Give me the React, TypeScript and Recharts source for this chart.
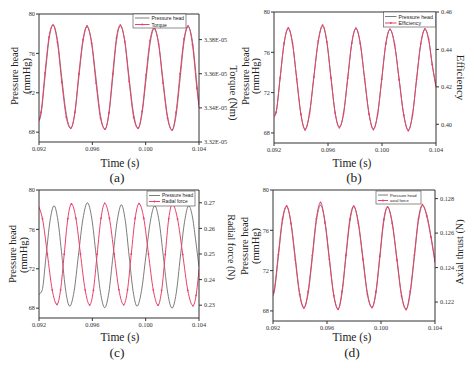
import React from 'react';
import { LineChart, Line, XAxis, YAxis, ReferenceLine } from 'recharts';

const SERIF = '"Liberation Serif", "Times New Roman", serif';
const SANS = '"Liberation Sans", Arial, sans-serif';
const GRAY = '#5b5b5b';
const RED = '#e8416a';
const AXIS = '#333333';

// shared tick values
const timeTicks = [0.092, 0.096, 0.1, 0.104];
const headTicks = [68, 72, 76, 80];

// ---------- panel (a): pressure head vs torque ----------
const timeA = [0.092, 0.09215, 0.09245, 0.09275, 0.09305, 0.09338, 0.09371, 0.09405, 0.09438, 0.09469, 0.09499, 0.0953, 0.0956, 0.09594, 0.09628, 0.09661, 0.09695, 0.09724, 0.09753, 0.09781, 0.0981, 0.09843, 0.09876, 0.0991, 0.09943, 0.09973, 0.10003, 0.10033, 0.10063, 0.10097, 0.1013, 0.10164, 0.10198, 0.10228, 0.10258, 0.10288, 0.10318, 0.10351, 0.10384, 0.104];
const headA = [69.1, 69.8, 73.6, 77.4, 78.9, 77.4, 73.5, 69.8, 68.4, 69.9, 73.6, 77.2, 78.7, 77.2, 73.4, 69.7, 68.3, 69.8, 73.5, 77.3, 78.8, 77.3, 73.5, 69.8, 68.4, 69.9, 73.4, 77.0, 78.5, 77.0, 73.3, 69.6, 68.2, 69.7, 73.4, 77.2, 78.7, 77.2, 72.9, 70.8];
const torqueA = [3.3325e-5, 3.3375e-5, 3.3605e-5, 3.3815e-5, 3.3885e-5, 3.3785e-5, 3.355e-5, 3.3345e-5, 3.328e-5, 3.3375e-5, 3.36e-5, 3.38e-5, 3.388e-5, 3.378e-5, 3.3545e-5, 3.334e-5, 3.3275e-5, 3.337e-5, 3.36e-5, 3.381e-5, 3.3885e-5, 3.379e-5, 3.3555e-5, 3.3345e-5, 3.328e-5, 3.338e-5, 3.3595e-5, 3.3795e-5, 3.387e-5, 3.3775e-5, 3.3545e-5, 3.334e-5, 3.327e-5, 3.3375e-5, 3.36e-5, 3.3805e-5, 3.388e-5, 3.377e-5, 3.3515e-5, 3.3405e-5];
const torqueTicks = [3.32e-5, 3.34e-5, 3.36e-5, 3.38e-5];

// ---------- panel (b): pressure head vs efficiency ----------
const timeB = [0.092, 0.09215, 0.09245, 0.09275, 0.09306, 0.09337, 0.09368, 0.09399, 0.0943, 0.09463, 0.09495, 0.09528, 0.0956, 0.09591, 0.09622, 0.09653, 0.09684, 0.09715, 0.09746, 0.09776, 0.09807, 0.09839, 0.09871, 0.09904, 0.09936, 0.09967, 0.09998, 0.10028, 0.10059, 0.10093, 0.10127, 0.10161, 0.10195, 0.10226, 0.10256, 0.10287, 0.10318, 0.10345, 0.10372, 0.104];
const headB = [69.6, 70.0, 73.4, 76.9, 78.35, 76.9, 73.4, 69.9, 68.4, 69.9, 73.5, 77.1, 78.6, 77.1, 73.5, 70.0, 68.6, 69.9, 73.4, 76.9, 78.35, 76.9, 73.4, 69.9, 68.4, 69.8, 73.3, 76.8, 78.25, 76.8, 73.3, 69.8, 68.3, 69.8, 73.3, 76.8, 78.25, 77.3, 74.8, 72.6];
const efficiencyB = [0.4042, 0.4063, 0.4247, 0.4435, 0.4515, 0.4433, 0.4243, 0.4055, 0.397, 0.4058, 0.4252, 0.4446, 0.453, 0.4442, 0.4248, 0.406, 0.3982, 0.4057, 0.4246, 0.4433, 0.4514, 0.4431, 0.4244, 0.4054, 0.3972, 0.4052, 0.4241, 0.4429, 0.4508, 0.4427, 0.4238, 0.405, 0.3966, 0.4051, 0.424, 0.443, 0.451, 0.4456, 0.4318, 0.42];
const efficiencyTicks = [0.4, 0.42, 0.44, 0.46];

// ---------- panel (c): pressure head vs radial force ----------
const timeC = [0.092, 0.09223, 0.09253, 0.09283, 0.09313, 0.09342, 0.09372, 0.09401, 0.0943, 0.09463, 0.09496, 0.0953, 0.09563, 0.09596, 0.09628, 0.09661, 0.09693, 0.09724, 0.09755, 0.09787, 0.09818, 0.09847, 0.09876, 0.09906, 0.09935, 0.09968, 0.10001, 0.10035, 0.10068, 0.10101, 0.10133, 0.10166, 0.10198, 0.10229, 0.1026, 0.10292, 0.10323, 0.10349, 0.10374, 0.104];
const headC = [69.4, 69.8, 73.3, 76.9, 78.4, 76.9, 73.3, 69.7, 68.2, 69.7, 73.4, 77.1, 78.7, 77.1, 73.4, 69.6, 68.05, 69.6, 73.3, 76.9, 78.5, 76.9, 73.3, 69.7, 68.2, 69.7, 73.2, 76.8, 78.4, 76.8, 73.2, 69.5, 68.0, 69.5, 73.2, 76.8, 78.4, 77.4, 75.0, 72.2];
const timeRadialC = [0.092, 0.09226, 0.09263, 0.09299, 0.09335, 0.09362, 0.09389, 0.09416, 0.09443, 0.09477, 0.09511, 0.09546, 0.0958, 0.09608, 0.09636, 0.09665, 0.09693, 0.09728, 0.09764, 0.09799, 0.09835, 0.09864, 0.09892, 0.09921, 0.0995, 0.09986, 0.10021, 0.10057, 0.10093, 0.1012, 0.10147, 0.10173, 0.102, 0.10239, 0.10278, 0.10316, 0.10355, 0.10378, 0.104];
const radialC = [0.2683, 0.2638, 0.2499, 0.236, 0.2303, 0.236, 0.2499, 0.2638, 0.2696, 0.2639, 0.25, 0.236, 0.2301, 0.2358, 0.2499, 0.264, 0.2698, 0.264, 0.25, 0.2361, 0.2302, 0.236, 0.25, 0.2639, 0.2697, 0.2639, 0.25, 0.236, 0.23, 0.2358, 0.2498, 0.2638, 0.2695, 0.2637, 0.2498, 0.2358, 0.2298, 0.2338, 0.244];
const radialTicks = [0.23, 0.24, 0.25, 0.26, 0.27];

// ---------- panel (d): pressure head vs axial thrust ----------
const timeD = [0.092, 0.09208, 0.09239, 0.0927, 0.09301, 0.09333, 0.09365, 0.09397, 0.09429, 0.0946, 0.09491, 0.09521, 0.09552, 0.09585, 0.09617, 0.0965, 0.09682, 0.09711, 0.0974, 0.09769, 0.09798, 0.09832, 0.09866, 0.09899, 0.09933, 0.09962, 0.09991, 0.1002, 0.10049, 0.10083, 0.10118, 0.10152, 0.10186, 0.10216, 0.10247, 0.10277, 0.10307, 0.10338, 0.10369, 0.104];
const headD = [69.5, 69.8, 73.3, 76.9, 78.35, 76.8, 73.3, 69.8, 68.35, 69.7, 73.2, 76.9, 78.5, 76.9, 73.3, 69.6, 68.2, 69.7, 73.3, 76.8, 78.35, 76.8, 73.3, 69.8, 68.35, 69.7, 73.2, 76.8, 78.3, 76.8, 73.2, 69.6, 68.2, 69.7, 73.3, 76.9, 78.45, 77.6, 75.5, 72.9];
const axialD = [0.12245, 0.12268, 0.12475, 0.12682, 0.12758, 0.12655, 0.12445, 0.12244, 0.12165, 0.12262, 0.1247, 0.12683, 0.12778, 0.1266, 0.12448, 0.12238, 0.12158, 0.12262, 0.12472, 0.1268, 0.12757, 0.12655, 0.12447, 0.12245, 0.12168, 0.1226, 0.12466, 0.12678, 0.12752, 0.12655, 0.12443, 0.12236, 0.12156, 0.12262, 0.12473, 0.12683, 0.12765, 0.127, 0.12578, 0.1243];
const axialTicks = [0.122, 0.124, 0.126, 0.128];

const rows = (t: number[], v: number[]) => t.map((x, i) => ({ t: x, v: v[i] }));

type PanelCfg = {
  left: number; top: number; w: number; h: number;
  mt: number; yl: number; yr: number; xh: number;
  headT: number[]; head: number[];
  otherT: number[]; other: number[];
  rDomain: [number, number]; rTicks: number[]; rFmt: (v: number) => string;
};

const panels: PanelCfg[] = [
  { left: 0, top: 0, w: 237, h: 184, mt: 14, yl: 39, yr: 38, xh: 42,
    headT: timeA, head: headA, otherT: timeA, other: torqueA,
    rDomain: [3.32e-5, 3.395e-5], rTicks: torqueTicks, rFmt: (v) => (v * 1e5).toFixed(2) + 'E-05' },
  { left: 237, top: 0, w: 237, h: 184, mt: 12, yl: 37, yr: 38, xh: 41,
    headT: timeB, head: headB, otherT: timeB, other: efficiencyB,
    rDomain: [0.39, 0.46], rTicks: efficiencyTicks, rFmt: (v) => v.toFixed(2) },
  { left: 0, top: 184, w: 237, h: 184, mt: 6, yl: 39, yr: 38, xh: 50,
    headT: timeC, head: headC, otherT: timeRadialC, other: radialC,
    rDomain: [0.225, 0.275], rTicks: radialTicks, rFmt: (v) => v.toFixed(2) },
  { left: 237, top: 184, w: 237, h: 184, mt: 6, yl: 36, yr: 39, xh: 47,
    headT: timeD, head: headD, otherT: timeD, other: axialD,
    rDomain: [0.1209, 0.1285], rTicks: axialTicks, rFmt: (v) => v.toFixed(3) },
];

const tickStyle = { fontSize: 6.3, fill: '#333', fontFamily: SERIF };

function Panel({ cfg }: { cfg: PanelCfg }) {
  return (
    <div style={{ position: 'absolute', left: cfg.left, top: cfg.top }}>
      <LineChart width={cfg.w} height={cfg.h} margin={{ top: cfg.mt, right: 0, bottom: 0, left: 0 }}>
        <XAxis xAxisId="x" dataKey="t" type="number" domain={[0.092, 0.104]} allowDataOverflow
          ticks={timeTicks} interval={0} tickFormatter={(v: number) => v.toFixed(3)} height={cfg.xh}
          tick={tickStyle} tickSize={3} tickMargin={2} axisLine={{ stroke: AXIS, strokeWidth: 1 }} tickLine={{ stroke: AXIS }} />
        <YAxis yAxisId="l" orientation="left" width={cfg.yl} domain={[67, 80]} allowDataOverflow
          ticks={headTicks} interval={0} tick={tickStyle} tickSize={3} tickMargin={1}
          axisLine={{ stroke: AXIS, strokeWidth: 1 }} tickLine={{ stroke: AXIS }} />
        <YAxis yAxisId="r" orientation="right" width={cfg.yr} domain={cfg.rDomain} allowDataOverflow
          ticks={cfg.rTicks} interval={0} tickFormatter={cfg.rFmt} tick={tickStyle} tickSize={3} tickMargin={2}
          axisLine={{ stroke: AXIS, strokeWidth: 1 }} tickLine={{ stroke: AXIS }} />
        <ReferenceLine xAxisId="x" yAxisId="l" y={80} stroke={AXIS} strokeWidth={1} />
        <Line xAxisId="x" yAxisId="l" data={rows(cfg.headT, cfg.head)} dataKey="v" type="monotone"
          stroke={GRAY} strokeWidth={0.8} dot={false} isAnimationActive={false} />
        <Line xAxisId="x" yAxisId="r" data={rows(cfg.otherT, cfg.other)} dataKey="v" type="monotone"
          stroke={RED} strokeWidth={1} dot={{ r: 0.9, fill: RED, stroke: RED, strokeWidth: 0 }} isAnimationActive={false} />
      </LineChart>
    </div>
  );
}

type Title = { text: string; x: number; y: number; size: number; rot: number };
const titles: Title[] = [
  { text: 'Pressure head', x: 14, y: 76, size: 10.5, rot: -90 },
  { text: '(mmHg)', x: 26.5, y: 76, size: 10.5, rot: -90 },
  { text: 'Torque (Nm)', x: 233.5, y: 93, size: 10.5, rot: 90 },
  { text: 'Pressure head', x: 245, y: 76, size: 10.5, rot: -90 },
  { text: '(mmHg)', x: 255.5, y: 76, size: 10.5, rot: -90 },
  { text: 'Efficiency', x: 460.5, y: 77.5, size: 11, rot: 90 },
  { text: 'Pressure head', x: 12.5, y: 254, size: 10.5, rot: -90 },
  { text: '(mmHg)', x: 23.5, y: 255, size: 10.5, rot: -90 },
  { text: 'Radial force (N)', x: 231, y: 247, size: 10, rot: 90 },
  { text: 'Pressure head', x: 244.5, y: 246, size: 10.5, rot: -90 },
  { text: '(mmHg)', x: 255, y: 246, size: 10.5, rot: -90 },
  { text: 'Axial thrust (N)', x: 459, y: 252, size: 10.2, rot: -90 },
];
const xTitles = [
  { text: 'Time (s)', x: 120, y: 166.5, size: 11.5 },
  { text: '(a)', x: 117, y: 182, size: 13.5 },
  { text: 'Time (s)', x: 352, y: 166.5, size: 11.5 },
  { text: '(b)', x: 354, y: 182, size: 13.5 },
  { text: 'Time (s)', x: 120, y: 340.5, size: 11.5 },
  { text: '(c)', x: 117, y: 357, size: 13.5 },
  { text: 'Time (s)', x: 352, y: 340.5, size: 11.5 },
  { text: '(d)', x: 352, y: 357, size: 13.5 },
];
const legends = [
  { x: 133, y: 14, w: 53, h: 14, lx1: 135, lx2: 149.5, tx: 151.5, y1: 18, y2: 24.5, fs: 5, label: 'Torque' },
  { x: 383.5, y: 12, w: 52, h: 15, lx1: 385, lx2: 396.5, tx: 398.5, y1: 16.5, y2: 23, fs: 5.3, label: 'Efficiency' },
  { x: 147, y: 191, w: 48, h: 15, lx1: 149, lx2: 160, tx: 162, y1: 195.5, y2: 201.5, fs: 4.8, label: 'Radial force' },
  { x: 376, y: 191, w: 45, h: 13, lx1: 378, lx2: 388, tx: 390, y1: 195, y2: 200.5, fs: 4.1, label: 'axial force' },
];

export default function App() {
  return (
    <div style={{ position: 'absolute', left: 0, top: 0, width: 474, height: 368, background: '#fff', overflow: 'hidden' }}>
      {panels.map((p, i) => <Panel key={i} cfg={p} />)}
      <svg width={474} height={368} style={{ position: 'absolute', left: 0, top: 0, pointerEvents: 'none' }}>
        {titles.map((t, i) => (
          <text key={'t' + i} x={t.x} y={t.y} transform={`rotate(${t.rot} ${t.x} ${t.y})`} textAnchor="middle"
            dominantBaseline="central" fontFamily={SERIF} fontSize={t.size} fill="#222">{t.text}</text>
        ))}
        {xTitles.map((t, i) => (
          <text key={'x' + i} x={t.x} y={t.y} textAnchor="middle" fontFamily={SERIF} fontSize={t.size} fill="#222">{t.text}</text>
        ))}
        {legends.map((l, i) => (
          <g key={'l' + i}>
            <rect x={l.x} y={l.y} width={l.w} height={l.h} fill="#fff" stroke="#444" strokeWidth={0.6} />
            <line x1={l.lx1} x2={l.lx2} y1={l.y1} y2={l.y1} stroke={GRAY} strokeWidth={0.8} />
            <text x={l.tx} y={l.y1} dominantBaseline="central" fontFamily={SANS} fontSize={l.fs} fill="#222">Pressure head</text>
            <line x1={l.lx1} x2={l.lx2} y1={l.y2} y2={l.y2} stroke={RED} strokeWidth={1} />
            <circle cx={(l.lx1 + l.lx2) / 2} cy={l.y2} r={0.9} fill={RED} />
            <text x={l.tx} y={l.y2} dominantBaseline="central" fontFamily={SANS} fontSize={l.fs} fill="#222">{l.label}</text>
          </g>
        ))}
      </svg>
    </div>
  );
}
